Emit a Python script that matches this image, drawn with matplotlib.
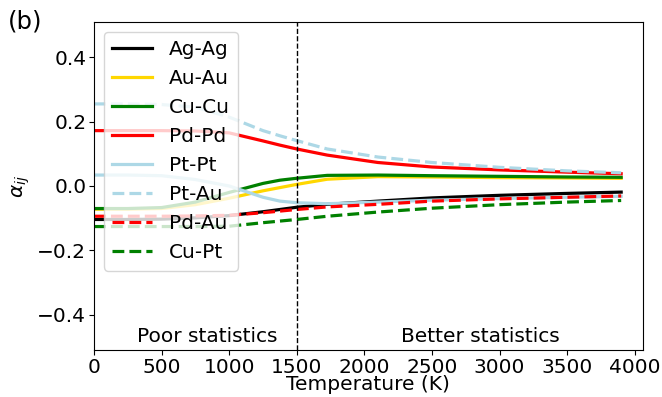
import numpy as np
import matplotlib
matplotlib.use('Agg')
import matplotlib.pyplot as plt

# temperature grid (K)
temps = [0, 250, 500, 750, 1000, 1250, 1375, 1500, 1725, 2100, 2500, 3000, 3500, 3900]

# short-range order parameters per pair
ag_ag = [-0.104, -0.104, -0.103, -0.099, -0.092, -0.080, -0.073, -0.066, -0.057, -0.047, -0.037, -0.029, -0.023, -0.019]
au_au = [-0.072, -0.072, -0.070, -0.058, -0.038, -0.015, -0.005, 0.005, 0.021, 0.029, 0.028, 0.026, 0.025, 0.024]
cu_cu = [-0.070, -0.070, -0.067, -0.050, -0.020, 0.008, 0.018, 0.024, 0.033, 0.034, 0.032, 0.030, 0.028, 0.027]
pd_pd = [0.172, 0.172, 0.172, 0.171, 0.165, 0.140, 0.127, 0.115, 0.096, 0.073, 0.059, 0.050, 0.043, 0.038]
pt_pt = [0.034, 0.034, 0.032, 0.020, 0.000, -0.035, -0.047, -0.052, -0.055, -0.050, -0.044, -0.039, -0.035, -0.032]
pt_au = [0.255, 0.255, 0.253, 0.245, 0.214, 0.172, 0.156, 0.141, 0.115, 0.090, 0.073, 0.058, 0.047, 0.041]
pd_au = [-0.094, -0.094, -0.094, -0.093, -0.091, -0.083, -0.078, -0.073, -0.065, -0.057, -0.047, -0.040, -0.035, -0.031]
cu_pt = [-0.126, -0.126, -0.126, -0.126, -0.125, -0.114, -0.109, -0.104, -0.094, -0.081, -0.069, -0.058, -0.050, -0.045]

series = [
    ('Ag-Ag', ag_ag, 'black', '-'),
    ('Au-Au', au_au, 'gold', '-'),
    ('Cu-Cu', cu_cu, 'green', '-'),
    ('Pd-Pd', pd_pd, 'red', '-'),
    ('Pt-Pt', pt_pt, 'lightblue', '-'),
    ('Pt-Au', pt_au, 'lightblue', '--'),
    ('Pd-Au', pd_au, 'red', '--'),
    ('Cu-Pt', cu_pt, 'green', '--'),
]

t_split = 1500

plt.rcParams['font.size'] = 14.5
fig = plt.figure(figsize=(6.62, 3.97), dpi=100)
ax = fig.add_axes([0.142, 0.118, 0.829, 0.827])

for name, vals, color, ls in series:
    ax.plot(temps, vals, color=color, linestyle=ls, linewidth=2.3, label=name)

ax.axvline(t_split, color='black', linestyle='--', linewidth=1)
ax.text(836, -0.467, 'Poor statistics', ha='center', va='center')
ax.text(2857, -0.467, 'Better statistics', ha='center', va='center')

ax.set_xlim(0, 4060)
ax.set_ylim(-0.51, 0.51)
ax.set_yticks([-0.4, -0.2, 0.0, 0.2, 0.4])
ax.tick_params(pad=2)
ax.set_xlabel('Temperature (K)', labelpad=-1)
ax.set_ylabel(r'$\alpha_{ij}$')
ax.legend(loc='upper left')

fig.text(0.012, 0.975, '(b)', fontsize=17.5, ha='left', va='top')

fig.savefig('out.png', dpi=100)
